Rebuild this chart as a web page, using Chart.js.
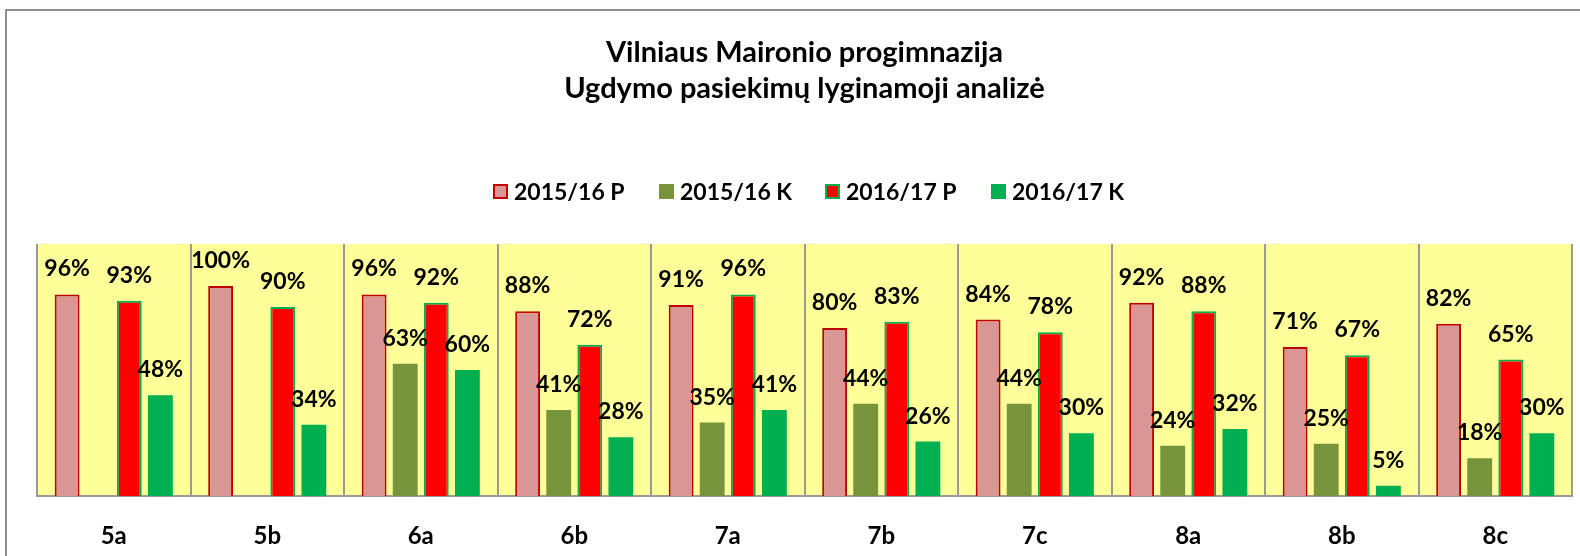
<!DOCTYPE html>
<html>
<head>
<meta charset="utf-8">
<script src="https://cdn.jsdelivr.net/npm/chart.js@4"></script>
<style>
    html, body { margin: 0; padding: 0; background: #fff; overflow: hidden; }
    body { width: 1580px; height: 556px; position: relative; }
    #frame {
        position: absolute; left: 5px; top: 9px; width: 1700px; height: 700px;
        border-left: 2px solid #8e8e8e; border-top: 2px solid #8e8e8e;
    }
    #wrap { position: absolute; left: 0; top: 0; width: 1602px; height: 578px; }
    #legend {
        position: absolute; left: 493px; top: 176px; display: flex;
        font-family: Lato, sans-serif; font-weight: bold; font-size: 23px; color: #000;
    }
    .item { width: 166px; display: flex; align-items: center; height: 30px; }
    .box { width: 15px; height: 15px; box-sizing: border-box; margin-right: 6px; }
</style>
</head>
<body>
<div id="frame"></div>
<div id="wrap"><canvas id="chart"></canvas></div>
<div id="legend"></div>
<script>
// Duomenys
const classes = ['5a', '5b', '6a', '6b', '7a', '7b', '7c', '8a', '8b', '8c'];
const seriesNames = ['2015/16 P', '2015/16 K', '2016/17 P', '2016/17 K'];
const p2015 = [96, 100, 96, 88, 91, 80, 84, 92, 71, 82];
const k2015 = [null, null, 63, 41, 35, 44, 44, 24, 25, 18];
const p2016 = [93, 90, 92, 72, 96, 83, 78, 88, 67, 65];
const k2016 = [48, 34, 60, 28, 41, 26, 30, 32, 5, 30];

const fills = ['#D99694', '#77933C', '#FF0000', '#00B050'];
const borders = ['#C00000', '#77933C', '#00B050', '#00B050'];
const borderWidths = [2, 0, 2, 0];
const values = [p2015, k2015, p2016, k2016];

const FONT = 'Lato, sans-serif';

// Geltonas fonas po stulpeliais
const plotBackground = {
    id: 'plotBackground',
    beforeDraw(chart) {
        const { ctx, chartArea: a } = chart;
        ctx.save();
        ctx.fillStyle = '#FFFF99';
        ctx.fillRect(a.left, a.top, a.right - a.left, a.bottom - a.top);
        ctx.restore();
    }
};

// Procentai virš stulpelių
const valueLabels = {
    id: 'valueLabels',
    afterDatasetsDraw(chart) {
        const ctx = chart.ctx;
        ctx.save();
        ctx.font = 'bold 23px ' + FONT;
        ctx.fillStyle = '#000';
        ctx.textAlign = 'center';
        ctx.textBaseline = 'alphabetic';
        chart.data.datasets.forEach((ds, i) => {
            const meta = chart.getDatasetMeta(i);
            meta.data.forEach((bar, j) => {
                const v = ds.data[j];
                if (v === null || v === undefined) return;
                ctx.fillText(v + '%', bar.x, bar.y - 18);
            });
        });
        ctx.restore();
    }
};

const datasets = seriesNames.map((name, i) => ({
    label: name,
    data: values[i],
    backgroundColor: fills[i],
    borderColor: borders[i],
    borderWidth: borderWidths[i],
    borderSkipped: 'start',
    categoryPercentage: 0.81,
    barPercentage: 0.8
}));

new Chart(document.getElementById('chart'), {
    type: 'bar',
    data: { labels: classes, datasets: datasets },
    options: {
        responsive: true,
        maintainAspectRatio: false,
        animation: false,
        layout: { padding: { left: 37, right: 30, top: 0, bottom: 1 } },
        scales: {
            x: {
                grid: { color: '#9a9a9a', lineWidth: 2, drawTicks: false, offset: true },
                border: { color: '#9a9a9a', width: 2 },
                ticks: { color: '#000', padding: 26, font: { family: FONT, weight: 'bold', size: 24 } }
            },
            y: {
                display: false,
                min: 0,
                max: 120
            }
        },
        plugins: {
            legend: { display: false },
            tooltip: { enabled: false },
            title: {
                display: true,
                text: ['Vilniaus Maironio progimnazija', 'Ugdymo pasiekimų lyginamoji analizė'],
                color: '#000',
                font: { family: FONT, weight: 'bold', size: 29, lineHeight: 1.24 },
                padding: { top: 35, bottom: 137 }
            }
        }
    },
    plugins: [plotBackground, valueLabels]
});

// Legenda
const legend = document.getElementById('legend');
seriesNames.forEach((name, i) => {
    const item = document.createElement('div');
    item.className = 'item';
    const box = document.createElement('span');
    box.className = 'box';
    box.style.background = fills[i];
    if (borderWidths[i]) box.style.border = '2px solid ' + borders[i];
    const label = document.createElement('span');
    label.textContent = name;
    item.appendChild(box);
    item.appendChild(label);
    legend.appendChild(item);
});
</script>
</body>
</html>
